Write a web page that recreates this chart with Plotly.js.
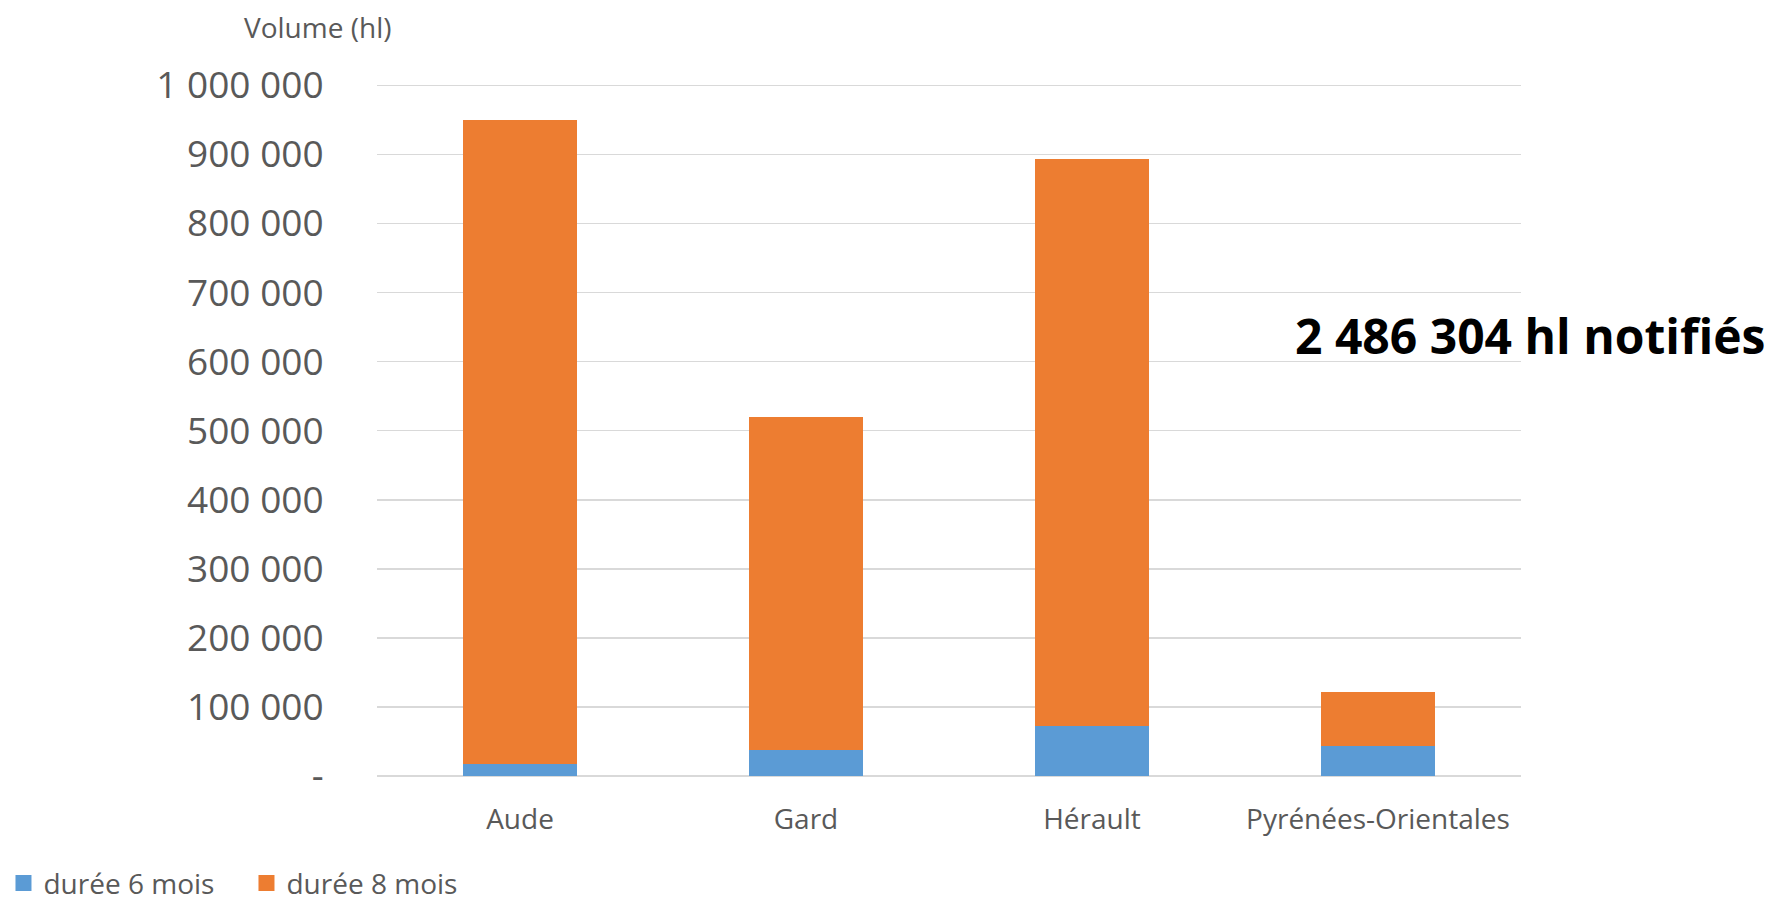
<!DOCTYPE html>
<html>
<head>
<meta charset="utf-8">
<script src="https://cdn.plot.ly/plotly-3.0.1.min.js"></script>
<style>html,body{margin:0;padding:0;background:#fff;}#chart{width:1774px;height:904px;}</style>
</head>
<body>
<div id="chart"></div>
<script>
const categories = ["Aude", "Gard", "Hérault", "Pyrénées-Orientales"];
const duree6mois = [18000, 38000, 73000, 44000];
const duree8mois = [932000, 482000, 821000, 78300];
const seriesNames = ["durée 6 mois", "durée 8 mois"];
const seriesColors = ["#5b9bd5", "#ed7d31"];
const tickValues = [0, 100000, 200000, 300000, 400000, 500000, 600000, 700000, 800000, 900000, 1000000];
const tickLabels = ["-", "100 000", "200 000", "300 000", "400 000", "500 000", "600 000", "700 000", "800 000", "900 000", "1 000 000"];
const totalLabel = "2 486 304 hl notifiés";
const yAxisTitle = "Volume (hl)";

const F = "'Open Sans', 'Noto Sans', sans-serif";
const grey = "#595959";

const traces = [
  {type: "bar", name: seriesNames[0], x: categories, y: duree6mois, width: 0.4, showlegend: false,
   marker: {color: seriesColors[0], line: {width: 0}}, hoverinfo: "none"},
  {type: "bar", name: seriesNames[1], x: categories, y: duree8mois, width: 0.4, showlegend: false,
   marker: {color: seriesColors[1], line: {width: 0}}, hoverinfo: "none"},
  // legend entries with larger square keys
  {type: "scatter", mode: "markers", name: seriesNames[0], x: [null], y: [null], showlegend: true,
   marker: {symbol: "square", size: 16, color: seriesColors[0]}, hoverinfo: "none"},
  {type: "scatter", mode: "markers", name: seriesNames[1], x: [null], y: [null], showlegend: true,
   marker: {symbol: "square", size: 16, color: seriesColors[1]}, hoverinfo: "none"}
];

const layout = {
  width: 1774, height: 904,
  barmode: "stack",
  paper_bgcolor: "#ffffff", plot_bgcolor: "#ffffff",
  margin: {l: 377, r: 253, t: 84, b: 128, pad: 0, autoexpand: false},
  font: {family: F, color: grey},
  showlegend: true,
  legend: {orientation: "h", x: -0.3265, xanchor: "left", y: -0.155, yanchor: "middle",
           font: {family: F, size: 28, color: grey}, entrywidth: 198, entrywidthmode: "pixels",
           itemsizing: "trace", traceorder: "normal", bgcolor: "rgba(0,0,0,0)"},
  xaxis: {type: "category", categoryorder: "array", categoryarray: categories,
          showgrid: false, zeroline: false, showline: false,
          ticks: "outside", ticklen: 18, tickcolor: "rgba(0,0,0,0)",
          tickfont: {family: F, size: 28, color: grey}},
  yaxis: {range: [0, 1002000], tickmode: "array", tickvals: tickValues, ticktext: tickLabels,
          showgrid: true, gridcolor: "#d9d9d9", gridwidth: 1.5,
          zeroline: true, zerolinecolor: "#d9d9d9", zerolinewidth: 2,
          showline: false, ticks: "outside", ticklen: 45, tickcolor: "rgba(0,0,0,0)",
          tickfont: {family: F, size: 37, color: grey}},
  annotations: [
    {text: yAxisTitle, xref: "paper", yref: "paper", x: -0.0516, y: 1.082,
     xanchor: "center", yanchor: "middle", showarrow: false,
     font: {family: F, size: 28, color: grey}},
    {text: "<b>" + totalLabel + "</b>", xref: "paper", yref: "paper", x: 1.008, y: 0.636,
     xanchor: "center", yanchor: "middle", showarrow: false,
     font: {family: F, size: 48, color: "#000000"}}
  ]
};

Plotly.newPlot("chart", traces, layout, {displayModeBar: false, staticPlot: true});
</script>
</body>
</html>
